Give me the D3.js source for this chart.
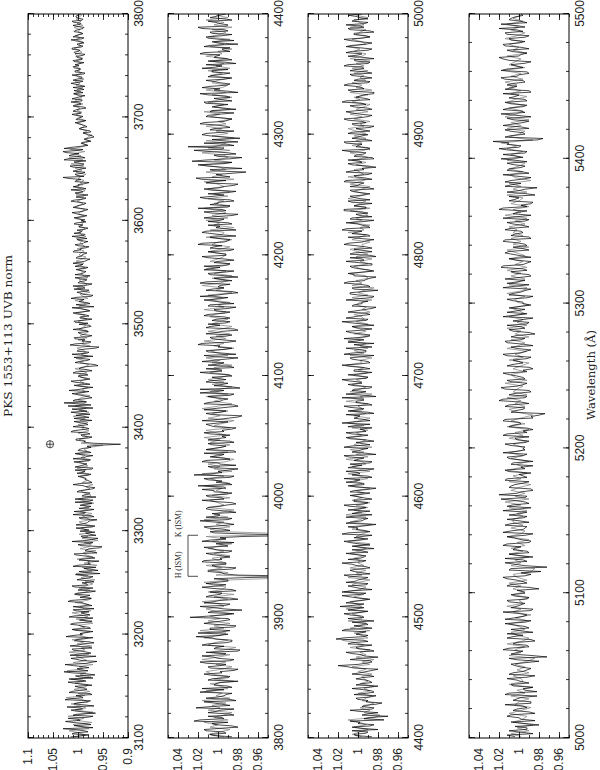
<!DOCTYPE html>
<html><head><meta charset="utf-8">
<script src="https://cdn.jsdelivr.net/npm/d3@7"></script>
<style>body{margin:0;background:#fff}svg{display:block}</style>
</head><body>
<svg id="chart" width="600" height="770"></svg>
<script>
// ---------------- DATA ----------------
const title = "PKS 1553+113 UVB norm";
const xLabel = "Wavelength (Å)";
const wlRanges = [[3100,3800],[3800,4400],[4400,5000],[5000,5500]];
const fluxRanges = [[0.9,1.1],[0.95,1.05],[0.95,1.05],[0.95,1.05]];
const wlTicks = [
  [3100,3200,3300,3400,3500,3600,3700,3800],
  [3800,3900,4000,4100,4200,4300,4400],
  [4400,4500,4600,4700,4800,4900,5000],
  [5000,5100,5200,5300,5400,5500]];
const fluxTicks = [[0.9,0.95,1,1.05,1.1],[0.96,0.98,1,1.02,1.04],[0.96,0.98,1,1.02,1.04],[0.96,0.98,1,1.02,1.04]];
const fluxTickLabels = [["0.9","0.95","1","1.05","1.1"],["0.96","0.98","1","1.02","1.04"],["0.96","0.98","1","1.02","1.04"],["0.96","0.98","1","1.02","1.04"]];
const sampleStep = 2;                 // Å between samples within one array
const evenStart = [3102,3802,4402,5002];
const oddStart  = [3101,3801,4401,5001];
// normalised flux, stored as (flux-1)*1000
// black spectrum, even-Å samples
const p1Black = [
-5,12,-20,3,-30,8,-14,25,-2,-18,10,-35,4,-9,22,-12,0,-25,15,-6,-28,18,-3,-15,6,
-12,20,-8,-30,5,-18,28,-4,-22,9,-15,-38,2,-10,16,-26,-6,12,-20,-2,-32,7,-14,24,-9,
-18,4,-25,-8,15,-20,-3,-30,8,-14,-22,10,-6,-28,-12,20,-16,-4,-24,2,-35,-10,6,-19,-8,
-22,-8,-30,5,-16,-40,-12,10,-25,-20,-2,-34,-14,8,-28,-18,-45,-6,-24,12,-30,-10,-36,-15,-4,
-10,-28,4,-18,-24,-6,-32,10,-15,-20,-2,-26,-12,6,-30,-16,-8,-22,2,-18,-34,-10,-4,-24,-14,
-8,-20,2,-14,-28,6,-12,-4,-22,10,-16,-6,-26,0,-10,-18,-85,-12,4,-20,-8,-24,14,-6,-16,
-4,-16,8,-10,-22,4,-2,-18,12,-8,-26,28,10,-14,-20,2,-10,18,-12,-4,-24,6,-8,-16,0,
-12,4,-20,-6,-40,-16,-2,-24,8,-10,-18,2,-14,-42,16,-22,-8,6,-20,-12,0,-16,-6,-26,-2,
6,-14,-4,-22,2,-10,-18,12,-8,-24,-2,-12,4,-30,-6,-16,8,-10,-20,0,-14,-4,-18,6,-12,
-4,-14,6,-10,-2,-18,4,-8,-12,10,-6,-16,0,-10,-20,2,-4,-12,8,-8,-14,-2,-10,4,-6,
2,-10,-4,12,-14,-6,4,-12,-2,8,-16,-4,0,-10,14,-8,-2,-14,6,-6,30,2,-8,10,-4,
10,-8,4,-16,20,-6,12,24,2,28,-4,-14,-10,-18,-22,-30,-16,-26,-12,-6,-14,0,-10,4,-6,
4,-6,10,-2,-12,6,0,-8,12,-4,2,-10,8,-6,-14,4,-2,10,-8,0,-12,6,-4,8,-2,
-4,8,-8,2,-10,6,-2,12,-6,0,-12,4,-8,10,-2,-6,6,-10,2,-4,8,-8,0,4,-6];
// black spectrum, odd-Å samples
const p1BlackOdd = [
15,-22,6,-12,30,-8,-26,10,-4,20,-30,2,-16,14,-6,-32,8,-20,26,-10,4,-24,12,-18,-2,
-28,8,-16,18,-4,-34,12,-20,2,-10,26,-24,-6,14,-36,0,-18,10,-28,16,-8,-22,4,-30,12,
-4,-30,12,-22,-2,8,-28,-14,18,-24,-6,4,-32,10,-20,-8,14,-26,-16,6,-22,0,-30,12,-18,
-32,2,-24,-10,-44,-2,-28,-36,0,-20,-42,-8,-26,4,-38,-14,-22,-48,0,-30,-16,-40,-6,-24,-34,
-22,4,-34,-8,-20,-38,-2,-26,-12,8,-32,-18,-4,-28,-22,6,-36,-12,-24,-2,-30,-16,10,-28,-20,
-16,0,-26,-10,6,-30,-4,-18,8,-24,-12,-30,6,-20,-2,-26,-40,-30,-14,4,-28,-6,-18,10,-22,
10,-20,-2,-28,8,-12,-24,14,-6,-30,20,-4,-16,6,-28,-10,12,-22,-2,-30,8,-14,14,-24,-4,
-20,10,-28,-2,-16,-34,6,-18,-6,-30,12,-22,0,-36,-10,6,-26,-14,8,-28,-4,-20,10,-16,-24,
-20,8,-28,-4,-16,10,-24,-6,-32,4,-18,-8,14,-26,-10,2,-22,-14,10,-28,-2,-18,6,-24,-8,
-16,4,-20,-2,10,-14,-24,2,-8,-18,8,-4,-22,6,-12,-2,-18,12,-14,-6,2,-20,-4,8,-16,
-14,8,-18,4,-8,-20,10,-2,-16,14,-10,4,-20,6,-6,-16,10,0,-22,4,18,-12,6,-14,2,
-16,16,-12,8,28,-14,18,-2,30,-10,14,-20,-6,-26,-12,-32,-20,-10,-24,-2,-18,-8,6,-16,2,
-10,12,-4,6,-16,10,-6,14,-8,4,-14,8,0,-12,10,-6,14,-10,2,-8,12,-14,6,-4,10,
6,-12,10,-8,4,-14,8,-4,12,-10,2,-6,14,-12,4,-10,8,-2,-12,10,-6,12,-10,4,-2];
// grey spectrum, odd-Å samples
const p1Gray = [
8,-15,-2,18,-22,-6,10,-28,2,-12,20,-8,-30,6,-16,-4,14,-20,-10,24,-14,0,-24,8,-12,
-20,6,-12,14,-26,-4,-16,22,-10,-2,-30,10,-18,-8,4,-22,18,-14,-6,-28,2,-12,12,-20,-4,
-6,-24,10,-14,-2,-30,-16,4,-20,-8,12,-26,-12,-4,-22,6,-18,-28,-10,8,-14,-24,-2,-16,-30,
-14,-34,-6,-20,4,-28,-18,-8,-38,-12,-24,2,-30,-16,-10,-36,-4,-22,-26,-12,-40,-8,-20,-2,-28,
-20,-6,-30,-12,-2,-24,-16,-8,-28,-4,-18,-22,-10,-32,-14,0,-20,-26,-12,-6,-24,-16,-30,-8,-18,
-14,-4,-22,-8,-16,2,-20,-10,-2,-26,-6,-14,4,-18,-12,-24,-50,-6,-16,-2,-20,-10,0,-22,-8,
-12,0,-20,-4,-14,10,-8,-22,-2,-16,6,-10,-18,0,-6,-24,4,-14,-8,-20,2,-12,-4,-18,-6,
-2,-18,-8,6,-14,-22,-4,-12,4,-20,-6,-16,-10,2,-24,-8,-12,0,-18,-4,-14,-22,-2,-10,-16,
-10,0,-18,-6,-14,4,-22,-8,-2,-16,-12,6,-20,-10,-4,-24,-6,2,-14,-18,-8,-2,-20,-10,-6,
-10,0,-14,-4,-12,4,-8,-16,-2,-6,-12,2,-14,-8,-4,-10,4,-16,-6,-2,-10,-14,0,-8,-12,
-8,4,-12,0,-6,-14,6,-4,-10,2,-8,-12,4,-2,-14,-6,8,-10,-4,-12,0,-6,-16,4,-8,
6,-12,14,-2,-10,18,-6,8,-14,16,-2,-18,-8,-24,-14,-20,-28,-10,-18,-4,-12,-8,2,-14,-2,
-6,4,-8,2,-4,8,-10,0,6,-8,-2,10,-6,2,-10,4,-4,6,-12,0,4,-8,2,-6,6,
2,-6,4,-10,0,6,-8,-2,8,-6,-2,-10,4,-4,6,-8,0,-4,8,-10,2,-6,4,-2,-8];
const p2Black = [
4,-8,12,-2,-14,6,24,-6,10,-10,2,-16,8,-4,14,-12,0,-8,18,-6,-14,4,-2,10,-10,
6,-4,-16,8,-2,12,-12,0,16,-8,-20,4,-6,10,-14,2,22,-10,-4,8,-16,0,6,-12,28,
-6,10,-24,4,-8,14,-2,-12,8,-4,-18,6,0,12,-10,4,-90,-6,10,-14,2,-8,16,-4,-12,
6,-10,2,14,-6,-16,8,-2,-90,4,-12,10,-4,-8,18,-14,0,6,-10,12,-2,-18,4,-6,10,
-8,4,16,-6,-14,2,10,-12,24,-4,-10,6,-18,0,12,-6,-2,14,-16,4,-8,10,-12,2,-4,
8,-6,-14,4,12,-10,0,-20,6,-2,14,-8,-16,10,-4,2,-12,18,-6,-22,4,-10,8,0,-14,
6,-4,12,-12,-2,16,-8,4,-18,10,-6,0,20,-10,-4,8,-14,2,-20,12,-2,-8,6,-12,14,
-6,2,-10,10,-16,4,-2,18,-8,-14,6,0,-12,12,-4,-20,8,-6,14,-2,-10,4,-16,10,-8,
2,-12,8,-4,16,-10,0,-18,6,12,-8,-2,-14,10,-6,4,-20,14,-4,-10,8,0,-12,18,-6,
-10,6,-2,-16,12,-8,22,-4,-14,4,-24,10,-6,26,-12,0,-18,8,-4,30,-10,-20,6,-8,16,
-4,8,-12,2,14,-10,-2,10,-16,6,-6,0,12,-14,4,-8,18,-10,-2,8,-12,4,-6,10,-4,
6,-10,2,12,-8,-14,4,-2,14,-6,-12,8,0,-16,10,-4,6,-10,16,-8,-2,10,-6,2,-8];
const p2BlackOdd = [
-14,8,-6,14,-20,2,-10,18,-4,-16,10,-2,22,-12,4,-18,12,-6,-14,8,16,-10,2,-20,6,
-12,14,-2,-20,10,-8,18,-16,4,-6,12,-22,2,16,-8,-14,6,-2,20,-12,8,-18,14,-4,-10,
10,-16,6,-6,18,-12,4,-20,12,-2,8,-14,16,-8,2,-10,-30,-20,-4,10,-18,6,-8,14,-2,
-4,12,-14,6,-10,2,16,-8,-25,-30,8,-6,14,-16,4,-10,12,-2,-18,6,10,-8,-14,16,-4,
12,-14,4,-8,20,-10,-4,14,-16,6,0,-20,10,-2,16,-12,8,-6,-18,12,-4,6,-16,10,-8,
-12,14,-4,-18,8,0,16,-10,-24,12,-8,4,-20,14,-2,-10,10,-16,2,18,-14,-4,12,-8,6,
-10,18,-2,-16,10,-6,4,-20,14,-4,12,-14,-2,16,-18,6,-8,12,-4,-16,8,10,-12,2,-6,
10,-12,4,-18,8,-4,14,-10,2,-20,12,-6,-2,18,-14,4,-8,10,-16,6,14,-12,0,-6,16,
-8,10,-16,4,20,-6,-12,8,-4,16,-18,2,10,-10,-2,14,-14,6,-8,20,-12,0,-16,12,4,
10,-18,14,-6,-20,6,16,-12,2,-28,8,-4,20,-14,12,-24,4,-10,24,-6,-16,14,-4,-22,8,
12,-16,4,-8,18,-6,-14,12,-2,8,-18,6,-10,14,-4,-12,10,-20,4,16,-8,-2,12,-14,6,
-12,6,16,-4,-18,10,-8,2,18,-12,-4,14,-20,6,-2,12,-14,8,-6,20,-10,2,-14,8,-2];
const p2Gray = [
-6,10,-2,-12,8,0,14,-10,4,-6,-14,10,-2,6,-8,16,-12,2,-4,12,-10,-2,8,-16,4,
-10,6,12,-4,-14,2,-8,16,0,-12,8,-6,-18,10,4,-10,14,-2,-8,18,-6,4,-12,10,-2,
8,-14,2,12,-6,-2,16,-10,4,-16,10,-4,-8,6,14,-12,-80,2,-10,8,-4,12,-8,0,6,
-12,4,-6,10,0,-14,6,-8,12,-80,-4,8,-12,2,-6,14,-10,4,-2,-16,10,-6,0,8,-12,
6,-10,2,-4,14,-12,0,8,-6,16,-14,4,-2,10,-8,-16,6,0,-10,12,-4,-12,8,-2,14,
-8,2,12,-12,4,-6,-16,10,-2,6,-10,16,0,-14,4,-4,12,-10,8,-2,-14,6,-6,10,-4,
-12,8,-4,4,-14,6,-2,12,-10,0,8,-16,4,-6,14,-8,2,-12,10,-4,-14,6,0,-10,8,
4,-8,14,-6,0,-12,8,-4,10,-14,2,-6,16,-2,-10,6,-14,4,-8,12,-4,-12,8,0,-6,
-8,10,-2,-12,6,0,-14,12,-4,-6,8,-16,4,-2,12,-10,6,-8,-2,14,-12,4,-6,10,-10,
4,-12,10,-6,0,14,-16,6,-4,12,-8,-2,18,-14,4,-10,-6,16,-12,10,-2,-8,12,-16,6,
-10,2,-4,12,-8,0,-14,8,-2,14,-12,4,-6,10,-2,-14,6,-8,12,-4,-10,6,0,-12,8,
-4,10,-12,2,-6,8,-10,12,-4,0,-14,8,-6,4,-12,10,-2,-8,6,-14,4,-6,12,-10,2];
const p3Black = [
2,-8,6,-4,-12,0,8,-6,-30,-10,-2,-14,-4,-18,-8,0,-12,4,-16,-6,-10,2,-14,-8,-4,
-10,-2,-14,4,20,-8,-12,-2,-6,6,-16,0,-4,10,-10,22,-6,2,-8,12,-4,-10,6,0,-6,
8,-2,10,-6,4,12,-4,0,16,-8,6,-2,10,-10,2,-6,8,-12,4,0,-8,6,-4,10,-6,
2,-10,6,-4,-12,8,-2,4,-14,10,-6,0,-8,12,-4,-10,2,6,-12,-2,8,-6,4,-14,0,
-4,8,-10,2,-6,12,-2,-14,6,0,-8,10,-4,-12,4,-6,14,-8,0,-10,6,-4,-16,8,-2,
6,-8,-2,10,-12,4,-6,0,12,-10,-4,8,-14,2,-6,16,-8,-2,6,-12,4,-4,10,-8,0,
-6,4,-12,8,-2,-10,6,-4,14,-8,0,-14,4,10,-6,-2,-12,8,-4,2,-16,6,-8,12,-2,
-8,2,-14,6,-4,-10,0,-16,8,-6,4,-12,-2,10,-8,-18,4,-4,-10,6,-14,0,-6,8,-12,
4,-6,-14,2,10,-8,-2,-12,6,-4,12,-10,0,-6,8,-14,2,-4,14,-8,-2,6,-12,4,-6,
-2,8,-10,0,-6,12,-8,4,-14,6,-4,-10,10,-2,-16,4,-6,8,-12,2,-4,14,-8,0,-10,
6,-4,-12,4,-8,10,-2,-14,6,0,-10,8,-4,12,-8,-2,-16,6,-6,2,10,-12,0,-6,8,
-8,2,-4,10,-12,4,-6,0,12,-10,-2,6,-14,8,-4,-8,4,-12,10,-2,-6,6,-10,2,-4];
const p3BlackOdd = [
-14,4,-10,-20,6,-16,-2,-26,-12,-4,-20,8,-16,-6,-24,-10,2,-18,-8,-14,6,-20,-4,-12,2,
-16,6,-8,-20,10,0,-14,8,-20,-4,12,-12,2,-14,6,-6,14,-10,-2,16,-14,4,-8,-16,10,
-4,14,-10,2,18,-6,6,-12,8,-2,16,-14,4,-8,12,0,-10,14,-4,8,-12,2,16,-8,-2,
-8,12,-4,-16,6,0,14,-10,-4,16,-12,2,10,-18,6,-6,12,-14,0,10,-8,14,-10,4,-6,
8,-12,4,-18,10,-6,2,14,-10,-2,12,-16,4,8,-14,0,10,-18,6,-4,14,-12,2,-8,12,
-10,12,-6,-14,2,16,-12,4,-2,-16,10,-6,14,-10,2,-4,-18,12,-8,4,-14,10,-2,16,-10,
10,-14,4,-6,16,-12,-2,8,-16,6,-8,12,-4,-16,2,14,-10,-2,12,-14,6,-6,16,-10,4,
-12,10,-6,-18,4,-4,12,-14,-2,8,-20,6,-10,14,-6,-12,4,10,-16,0,8,-14,12,-4,-18,
8,-14,4,-8,14,-4,-16,10,-10,2,16,-12,-4,12,-16,6,-2,-10,14,-8,4,-14,10,-2,8,
-12,6,-16,8,-2,14,-14,2,-10,12,-6,-18,6,-4,10,-14,2,-8,16,-10,0,12,-14,6,-4,
10,-12,2,-16,6,-4,14,-10,-2,12,-14,4,-8,16,-12,2,-6,-16,10,-4,14,-10,4,-14,6,
-14,8,-6,14,-10,2,-16,10,-4,6,-14,12,-8,-2,14,-12,4,-16,8,-6,12,-10,4,-2,10];
const p3Gray = [
-4,6,-2,-10,4,-8,-2,10,-16,-22,-6,-12,-2,-10,-16,-4,-8,-14,0,-12,-6,-16,-2,-10,-6,
-4,-14,0,-8,6,-12,-4,-16,2,-8,-2,-12,8,-6,2,16,-10,-4,4,-12,8,-2,-8,10,-4,
-2,6,-8,12,-4,2,8,-10,4,-6,14,-2,-8,6,0,-12,10,-4,2,-8,8,-6,0,-2,4,
-6,8,-2,-8,4,-12,10,-6,2,-4,-10,6,0,-14,8,-2,-8,12,-4,4,-10,2,-12,6,-4,
6,-6,2,-12,8,-4,4,-10,-2,10,-12,0,6,-8,-4,12,-10,2,-6,8,-14,4,-2,-8,10,
-4,2,-10,6,-6,10,-2,-12,4,-8,8,-4,0,-10,12,-6,-2,-14,8,-2,-8,6,-4,2,-10,
4,-10,0,-6,12,-4,-2,-14,8,-6,4,-10,-2,-8,10,0,-12,4,-8,-2,6,-10,2,-6,-4,
4,-12,-4,-8,2,-2,-14,6,-10,0,-6,-16,6,-4,2,-10,-8,8,-14,-2,4,-10,-2,-14,2,
-10,0,8,-6,-4,-12,6,-2,-8,10,-6,-2,-12,8,-4,2,-10,-6,8,-12,4,-2,-8,10,-2,
-8,4,-4,-12,8,-2,-8,10,-6,-2,4,-12,2,-8,6,-10,-2,8,-6,-12,6,-4,2,-8,4,
-8,2,10,-6,-2,-12,4,-4,8,-10,2,-6,-12,6,-2,4,-10,8,-14,2,-4,6,-8,-2,-6,
4,-10,6,-6,2,-12,8,-4,-8,4,-2,10,-8,-4,6,-12,2,-2,-8,8,-6,-2,4,-10,2];
const p4Black = [
12,-2,-8,4,-6,-16,0,8,-10,2,-4,-12,6,-2,14,-18,-4,6,-10,2,-8,10,-4,-12,4,
-6,2,-28,8,-4,10,-8,2,-12,6,12,-2,-10,4,-6,14,-4,0,-12,8,-2,10,-8,4,-6,
2,-10,8,-4,12,-6,-2,10,-28,4,-8,14,0,-10,6,-2,12,-12,4,-6,16,-4,-8,8,0,
-4,10,-8,2,12,-10,4,-6,20,-2,-12,8,-4,14,-8,0,10,-6,-14,6,-2,12,-8,2,-4,
8,-6,2,-10,12,-4,-8,6,0,14,-12,-26,4,-6,10,-2,16,-8,4,-10,18,-4,8,-6,2,
16,-4,-10,6,0,-8,12,-2,-12,8,-4,14,-6,2,-10,10,-2,-8,6,-14,4,12,-6,0,-4,
6,-8,10,-2,-12,4,12,-6,0,-10,8,-4,16,-8,2,-12,6,10,-4,-8,2,14,-10,4,-2,
8,-4,12,-10,2,6,-8,16,-2,-14,4,10,-6,0,-18,8,14,-4,2,-10,12,-2,6,-8,18,
4,-6,10,0,12,26,-24,8,-4,14,-2,6,-10,12,2,-6,16,-4,8,-8,10,0,-12,14,2,
6,-4,18,0,-8,12,2,-6,10,20,-2,6,-10,14,0,8,-6,12,-4,20,2,-8,10,4,-2];
const p4BlackOdd = [
4,-14,10,-8,-20,8,-2,12,-16,6,-8,14,-12,2,-18,10,-6,-14,8,-2,12,-16,6,-8,-2,
8,-20,10,-12,2,16,-10,6,-16,12,-4,-14,8,-6,14,-12,4,-8,16,-14,2,-6,12,-10,8,
-4,-20,12,-8,2,16,-12,-22,8,-6,14,-4,-14,10,-8,4,16,-10,-2,12,-14,8,-6,14,-10,
12,-8,-2,16,-12,6,-6,18,-8,2,-14,10,4,-10,12,-4,-12,14,-2,8,-14,10,-4,16,-6,
-6,14,-10,4,16,-8,-14,10,-2,16,-14,-20,8,-4,14,-10,20,-6,10,-12,14,2,-8,12,-4,
10,-8,-14,12,-4,6,-12,16,-6,2,-14,12,-2,8,-16,6,-6,12,-10,-4,16,-8,2,10,-12,
-4,12,-14,6,-6,16,-10,2,14,-12,4,-8,18,-4,-12,10,-2,14,-10,6,-6,16,-12,8,-4,
14,-10,6,-6,16,-12,2,20,-8,-12,10,0,-16,12,-6,14,-2,8,-12,16,-4,10,-6,12,4,
-4,16,-8,20,-2,10,-18,14,-6,8,-10,16,-4,6,-12,18,-2,10,-8,14,-6,4,16,-10,8,
12,-6,14,2,-10,18,-4,8,-12,16,0,-8,12,-2,16,-6,10,-10,14,2,-6,18,-2,8,-4];
const p4Gray = [
-2,8,-10,2,-14,6,-4,-8,10,-2,-12,4,0,-10,8,-6,2,-14,10,-4,-2,6,-10,2,-6,
4,-8,-16,10,-2,4,-6,12,-4,-10,2,8,-6,0,10,-8,4,-12,6,-2,12,-4,0,-10,6,
-6,6,-2,10,-8,2,6,-12,-16,8,-2,4,-10,10,-4,8,-6,2,-10,12,-2,-6,8,-4,6,
6,-4,2,-8,10,-2,14,-10,4,-6,8,0,-12,10,-2,6,-8,12,-4,2,-10,8,-4,10,-6,
-2,6,-8,10,-4,4,-10,12,-6,8,-2,-14,2,10,-6,4,-2,12,-8,6,2,-4,14,-8,4,
8,-6,6,-2,-10,10,-4,4,-8,12,0,-6,8,-10,4,-2,12,-8,2,-4,10,-6,0,8,-10,
2,4,-6,12,-4,-8,10,0,-6,8,-2,12,-8,4,-4,10,-6,2,12,-10,6,-2,8,-4,6,
2,10,-6,4,-8,14,-2,6,-10,8,0,-4,12,-8,6,-2,10,-12,4,8,-4,10,0,-6,12,
-2,8,-4,12,2,18,-14,10,0,-6,12,-2,8,-10,14,2,-4,10,-6,12,4,-8,8,-2,10,
2,14,-4,8,-2,16,-6,10,4,-2,12,-8,6,0,10,-4,14,2,-6,8,0,12,-4,6,-2];
const blackEven = [p1Black,p2Black,p3Black,p4Black];
const blackOdd  = [p1BlackOdd,p2BlackOdd,p3BlackOdd,p4BlackOdd];
const graySeries = [p1Gray,p2Gray,p3Gray,p4Gray];
// ISM Ca II marker and telluric symbol
const ismLabels = ["H (ISM)","K (ISM)"];
const ismWl = [3934,3968];
const ismFlux = [1.03,1.02];         // bracket level, tick end
const tellWl = [3384];
const tellFlux = [1.056];

// ---------------- LAYOUT ----------------
const panelTop = [28,168,308,469];
const panelH = 100, X0 = 32, X1 = 756;
const svg = d3.select("#chart");
const root = svg.append("g").attr("transform","translate(0,770) rotate(-90)");
const tickFont = "'Liberation Sans', Arial, sans-serif";

wlRanges.forEach((wr,i)=>{
  const top = panelTop[i];
  const x = d3.scaleLinear().domain(wr).range([X0,X1]);
  const y = d3.scaleLinear().domain(fluxRanges[i]).range([top+panelH, top]);
  const g = root.append("g");
  const cid = "clip"+i;
  g.append("clipPath").attr("id",cid).append("rect")
    .attr("x",X0).attr("y",top).attr("width",X1-X0).attr("height",panelH);
  const line = d3.line().x(d=>x(d[0])).y(d=>y(d[1]));
  const pts = (arr,start)=>arr.map((v,k)=>[start+sampleStep*k, 1+v/1000]);
  const blackPts = pts(blackEven[i],evenStart[i]).concat(pts(blackOdd[i],oddStart[i]))
    .sort((a,b)=>a[0]-b[0]);
  g.append("path").datum(pts(graySeries[i],oddStart[i])).attr("d",line)
    .attr("fill","none").attr("stroke","#8c8c8c").attr("stroke-width",0.8)
    .attr("clip-path",`url(#${cid})`);
  g.append("path").datum(blackPts).attr("d",line)
    .attr("fill","none").attr("stroke","#000").attr("stroke-width",0.7)
    .attr("clip-path",`url(#${cid})`);

  const minorWl = d3.range(wr[0], wr[1]+0.1, 20);
  const minorFl = d3.range(Math.round(fluxRanges[i][0]*100), Math.round(fluxRanges[i][1]*100)+1).map(v=>v/100);
  const styleAxis = sel=>{
    sel.select(".domain").remove();
    sel.selectAll("line").attr("stroke","#000").attr("stroke-width",0.8);
    sel.selectAll("text").attr("font-family",tickFont).attr("font-size",12).attr("fill","#222");
  };
  g.append("g").attr("transform",`translate(0,${top+panelH})`)
    .call(d3.axisBottom(x).tickValues(wlTicks[i]).tickSize(-6).tickPadding(6).tickFormat(d3.format("d"))).call(styleAxis);
  g.append("g").attr("transform",`translate(0,${top+panelH})`)
    .call(d3.axisBottom(x).tickValues(minorWl).tickSize(-3).tickFormat("")).call(styleAxis);
  g.append("g").attr("transform",`translate(0,${top})`)
    .call(d3.axisTop(x).tickValues(wlTicks[i]).tickSize(-6).tickFormat("")).call(styleAxis);
  g.append("g").attr("transform",`translate(0,${top})`)
    .call(d3.axisTop(x).tickValues(minorWl).tickSize(-3).tickFormat("")).call(styleAxis);
  g.append("g").attr("transform",`translate(${X0},0)`)
    .call(d3.axisLeft(y).tickValues(fluxTicks[i]).tickSize(-6).tickPadding(10)
      .tickFormat((d,k)=>fluxTickLabels[i][k])).call(styleAxis);
  g.append("g").attr("transform",`translate(${X0},0)`)
    .call(d3.axisLeft(y).tickValues(minorFl).tickSize(-3).tickFormat("")).call(styleAxis);
  g.append("g").attr("transform",`translate(${X1},0)`)
    .call(d3.axisRight(y).tickValues(fluxTicks[i]).tickSize(-6).tickFormat("")).call(styleAxis);
  g.append("g").attr("transform",`translate(${X1},0)`)
    .call(d3.axisRight(y).tickValues(minorFl).tickSize(-3).tickFormat("")).call(styleAxis);
  g.append("rect").attr("x",X0).attr("y",top).attr("width",X1-X0).attr("height",panelH)
    .attr("fill","none").attr("stroke","#000").attr("stroke-width",1);

  if(i===0){
    tellWl.forEach((w,k)=>{
      const cx = x(w), cy = y(tellFlux[k]);
      const t = g.append("g").attr("stroke","#222").attr("fill","none").attr("stroke-width",0.8);
      t.append("circle").attr("cx",cx).attr("cy",cy).attr("r",3.6);
      t.append("line").attr("x1",cx-3.6).attr("x2",cx+3.6).attr("y1",cy).attr("y2",cy);
      t.append("line").attr("x1",cx).attr("x2",cx).attr("y1",cy-3.6).attr("y2",cy+3.6);
    });
  }
  if(i===1){
    const yb = y(ismFlux[0]), yt = y(ismFlux[1]);
    const m = g.append("g").attr("stroke","#222").attr("stroke-width",0.8).attr("fill","none");
    m.append("line").attr("x1",x(ismWl[0])).attr("x2",x(ismWl[1])).attr("y1",yb).attr("y2",yb);
    ismWl.forEach((w,k)=>{
      m.append("line").attr("x1",x(w)).attr("x2",x(w)).attr("y1",yb).attr("y2",yt);
      g.append("text").attr("x",x(w)-2).attr("y",yb-7).text(ismLabels[k])
        .attr("font-family","'Liberation Serif','DejaVu Serif',serif").attr("font-size",7.5)
        .attr("textLength",27).attr("lengthAdjust","spacingAndGlyphs").attr("fill","#222");
    });
  }
});

root.append("text").attr("x",770-417).attr("y",11.5).text(title)
  .attr("font-family","'DejaVu Serif',serif").attr("font-size",11)
  .attr("textLength",162).attr("lengthAdjust","spacingAndGlyphs").attr("fill","#222");
root.append("text").attr("x",770-375).attr("y",595).attr("text-anchor","middle").text(xLabel)
  .attr("font-family","'DejaVu Serif',serif").attr("font-size",10.5)
  .attr("textLength",90).attr("lengthAdjust","spacingAndGlyphs").attr("fill","#222");
</script>
</body></html>
